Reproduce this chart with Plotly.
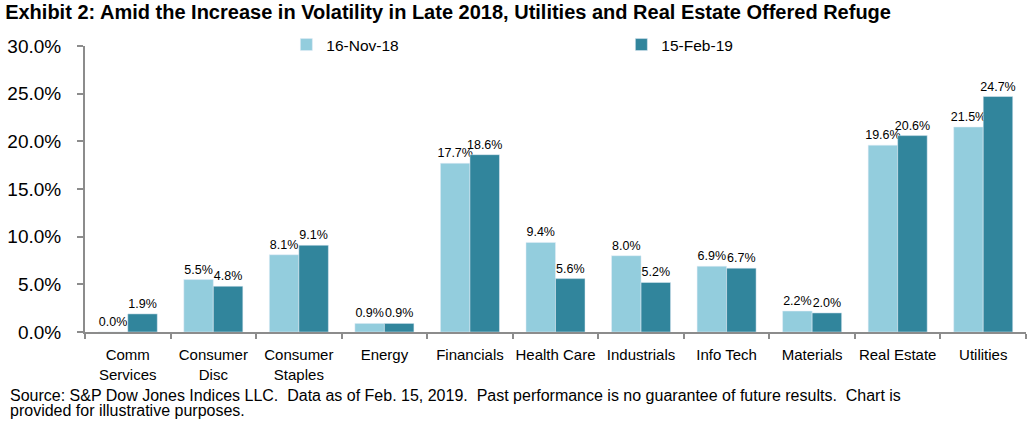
import plotly.graph_objects as go

categories = ["Comm<br>Services", "Consumer<br>Disc", "Consumer<br>Staples", "Energy", "Financials",
              "Health Care", "Industrials", "Info Tech", "Materials", "Real Estate", "Utilities"]
nov18 = [0.0, 5.5, 8.1, 0.9, 17.7, 9.4, 8.0, 6.9, 2.2, 19.6, 21.5]
feb19 = [1.9, 4.8, 9.1, 0.9, 18.6, 5.6, 5.2, 6.7, 2.0, 20.6, 24.7]
series_names = ["16-Nov-18", "15-Feb-19"]
colors = ["#93CDDD", "#31859C"]
source_lines = [
    "Source: S&P Dow Jones Indices LLC.  Data as of Feb. 15, 2019.  Past performance is no guarantee of future results.  Chart is",
    "provided for illustrative purposes.",
]

fig = go.Figure()
for name, vals, col in zip(series_names, [nov18, feb19], colors):
    fig.add_trace(go.Bar(
        x=categories, y=vals, name=name, marker_color=col,
        text=[f"{v:.1f}%" for v in vals], textposition="outside", constraintext="none",
        textfont=dict(size=12.5, color="black", family="Liberation Sans, Arial"),
        cliponaxis=False,
    ))

fig.update_layout(
    width=1033, height=423,
    margin=dict(l=85, r=7, t=46, b=91, autoexpand=False),
    paper_bgcolor="white", plot_bgcolor="white",
    barmode="group", bargap=0.31, bargroupgap=0,
    font=dict(family="Liberation Sans, Arial", color="black"),
    title=dict(text="<b>Exhibit 2: Amid the Increase in Volatility in Late 2018, Utilities and Real Estate Offered Refuge</b>",
               x=0.005, xanchor="left", y=0.988, yanchor="top", font=dict(size=20)),
    legend=dict(orientation="h", x=0.214, y=1.0035, xanchor="left", yanchor="middle",
                font=dict(size=15.5), entrywidth=290, entrywidthmode="pixels",
                itemwidth=30, bgcolor="rgba(0,0,0,0)"),
    showlegend=True,
)
fig.update_yaxes(range=[0, 30], dtick=5, ticksuffix="%", tickformat=".1f",
                 showgrid=False, showline=True, linecolor="#8C8C8C", linewidth=2,
                 ticks="outside", tickcolor="#8C8C8C", tickwidth=2, ticklen=6, ticklabelstandoff=12,
                 tickfont=dict(size=19), zeroline=False)
fig.update_xaxes(showgrid=False, showline=True, linecolor="#8C8C8C", linewidth=2,
                 ticks="outside", tickson="boundaries", tickcolor="#8C8C8C", tickwidth=2, ticklen=5,
                 ticklabelstandoff=8, tickfont=dict(size=15), tickangle=0)

for line, ypos in zip(source_lines, [-0.2203, -0.2762]):
    fig.add_annotation(
        text=line, xref="paper", yref="paper", x=-77/941, y=ypos,
        xanchor="left", yanchor="middle", showarrow=False, align="left",
        font=dict(size=16))

fig.write_html("out.html", config={"displayModeBar": False},
               post_script="document.body.style.margin='0';")
